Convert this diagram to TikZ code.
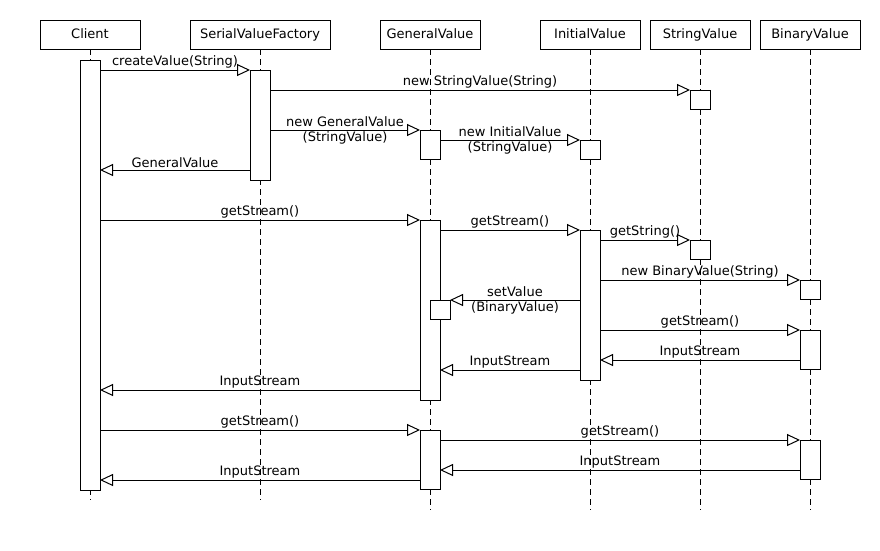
\documentclass[tikz,border=0pt]{standalone}
\usepackage{fontspec}
\setmainfont{DejaVu Sans}
\usepackage{tikz}
\usetikzlibrary{arrows.meta,positioning,calc}
\tikzstyle{object}=[draw,minimum width=100pt,minimum height=29pt,inner sep=0pt,outer sep=0pt,text height=9.5pt,text depth=2.5pt]
\tikzstyle{life}=[dash pattern=on 6pt off 4pt]
\tikzstyle{act}=[draw,fill=white,minimum width=20pt,inner sep=0pt,outer sep=0pt,anchor=north]
\tikzstyle{msg}=[-{Triangle[open,length=13pt,width=12pt]}]
\tikzstyle{lbl}=[midway,above,inner sep=1.5pt]
\tikzstyle{lbl2}=[midway,align=center,inner sep=0pt]
\begin{document}
\begin{tikzpicture}[x=1pt,y=-1pt,line width=1pt,font=\fontsize{13}{15}\selectfont]
\useasboundingbox (0,0) rectangle (880,550);
\node[object] (client) at (90,34.5) {Client};
\node[object,minimum width=140pt,right=50pt of client] (factory) {SerialValueFactory};
\node[object,right=50pt of factory] (general) {GeneralValue};
\node[object,right=60pt of general] (initial) {InitialValue};
\node[object,right=10pt of initial] (string) {StringValue};
\node[object,right=10pt of string] (binary) {BinaryValue};

\foreach \o/\e in {client/500,factory/500,general/510,initial/510,string/510,binary/510}
  \draw[life] (\o.south) -- (\o |- 0,\e);

\node[act,minimum height=430pt] (c1) at (client |- 0,60) {};
\node[act,minimum height=110pt] (f1) at (factory |- 0,70) {};
\node[act,minimum height=19pt] (s1) at (string |- 0,90) {};
\node[act,minimum height=29pt] (g1) at (general |- 0,130) {};
\node[act,minimum height=19pt] (i1) at (initial |- 0,140) {};
\node[act,minimum height=180pt] (g2) at (general |- 0,220) {};
\node[act,minimum height=150pt] (i2) at (initial |- 0,230) {};
\node[act,minimum height=19pt] (s2) at (string |- 0,240) {};
\node[act,minimum height=19pt] (b1) at (binary |- 0,280) {};
\node[act,minimum height=19pt] (g3) at ($(general |- 0,300)+(10,0)$) {};
\node[act,minimum height=39pt] (b2) at (binary |- 0,330) {};
\node[act,minimum height=59pt] (g4) at (general |- 0,430) {};
\node[act,minimum height=39pt] (b3) at (binary |- 0,440) {};

\draw[msg] (c1.east |- f1.north) -- node[lbl] {createValue(String)} (f1.north west);
\draw[msg] (f1.east |- s1.north) -- node[lbl] {new StringValue(String)} (s1.north west);
\draw[msg] (f1.east |- g1.north) -- node[lbl2] {new GeneralValue\\(StringValue)} (g1.north west);
\draw[msg] (g1.east |- i1.north) -- node[lbl2] {new InitialValue\\(StringValue)} (i1.north west);
\draw[msg] (f1.west |- 0,170) -- node[lbl] {GeneralValue} (c1.east |- 0,170);

\draw[msg] (c1.east |- g2.north) -- node[lbl] {getStream()} (g2.north west);
\draw[msg] (g2.east |- i2.north) -- node[lbl] {getStream()} (i2.north west);
\draw[msg] (i2.east |- s2.north) -- node[lbl] {getString()} (s2.north west);
\draw[msg] (i2.east |- b1.north) -- node[lbl] {new BinaryValue(String)} (b1.north west);
\draw[msg] (i2.west |- g3.north) -- node[lbl2] {setValue\\(BinaryValue)} (g3.north east);
\draw[msg] (i2.east |- b2.north) -- node[lbl] {getStream()} (b2.north west);
\draw[msg] (b2.west |- 0,360) -- node[lbl] {InputStream} (i2.east |- 0,360);
\draw[msg] (i2.west |- 0,370) -- node[lbl] {InputStream} (g2.east |- 0,370);
\draw[msg] (g2.west |- 0,390) -- node[lbl] {InputStream} (c1.east |- 0,390);

\draw[msg] (c1.east |- g4.north) -- node[lbl] {getStream()} (g4.north west);
\draw[msg] (g4.east |- b3.north) -- node[lbl] {getStream()} (b3.north west);
\draw[msg] (b3.west |- 0,470) -- node[lbl] {InputStream} (g4.east |- 0,470);
\draw[msg] (g4.west |- 0,480) -- node[lbl] {InputStream} (c1.east |- 0,480);
\end{tikzpicture}
\end{document}
